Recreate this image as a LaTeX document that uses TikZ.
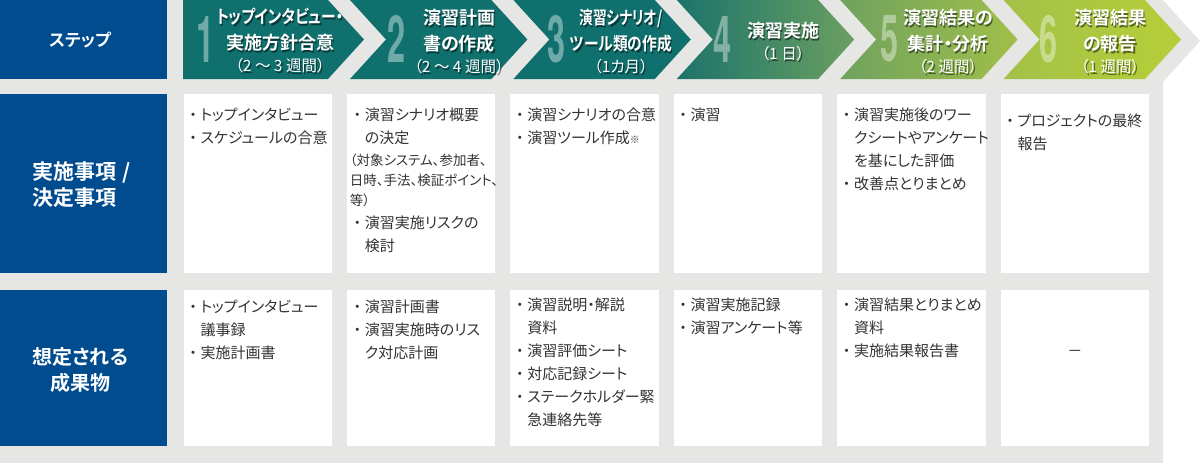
\documentclass[tikz,border=0pt]{standalone}
\usepackage{fontspec}
\usepackage{graphicx}
\setmainfont{Noto Sans CJK JP}[BoldFont={* Bold},RawFeature=+palt]
\newfontfamily\numfont{TeX Gyre Heros}
\usetikzlibrary{positioning}
\setlength{\parindent}{0pt}

\definecolor{stepnavy}{HTML}{004C8F}
\definecolor{stepgray}{HTML}{E6E6E4}
\definecolor{stepteal}{HTML}{10706E}
\definecolor{gradA}{HTML}{1C736B}
\definecolor{gradB}{HTML}{6A9F61}
\definecolor{gradC}{HTML}{6FA25F}
\definecolor{gradD}{HTML}{A0BF4A}
\definecolor{gradE}{HTML}{A3C149}
\definecolor{steplime}{HTML}{B6CE37}
\definecolor{celltext}{HTML}{333333}

\tikzstyle{navybox}=[fill=stepnavy, inner sep=0pt, minimum width=167pt]
\tikzstyle{lbl}=[text=white, inner sep=0pt, font=\fontsize{20}{26}\selectfont\bfseries]
\tikzstyle{cellbox}=[fill=white, inner sep=0pt, minimum width=148.5pt, anchor=north west]
\tikzstyle{celltxt}=[text=celltext, inner sep=0pt, anchor=north west, text width=146pt, align=left, font=\fontsize{15}{23}\selectfont, execute at begin node=\strut]
\tikzstyle{ttl}=[text=white, inner sep=0pt, align=center, font=\fontsize{18}{26}\selectfont\bfseries]
\tikzstyle{dur}=[text=white, inner sep=0pt, font=\fontsize{15.5}{16}\selectfont]
\tikzstyle{stepnum}=[text=white, text opacity=0.4, inner sep=0pt, font=\fontsize{65}{65}\numfont\bfseries]

\newcommand{\itm}{\makebox[15pt][c]{・}}
\newcommand{\itmind}{\hspace*{15pt}}
\newcommand{\narrow}[2]{\scalebox{#1}[1]{#2}}
\newcommand{\shadowed}[5]{%
  \node[#1, text=black, text opacity=0.5] (#2-sh) at (#3+1.3,#4+1.3) {#5};
  \node[#1] (#2) at (#3,#4) {#5};}

\begin{document}
\begin{tikzpicture}[x=1pt,y=-1pt]
    \useasboundingbox (0,0) rectangle (1200,463);
    \fill[stepgray] (0,0) -- (1163,0) -- (1200,41) -- (1163,82) -- (1163,463) -- (0,463) -- cycle;

    % left labels
    \node[navybox, minimum height=79pt] (hstep) at (83.5,39.5) {};
    \node[lbl, font=\fontsize{17}{20}\selectfont\bfseries] (tstep) at (80,40) {ステップ};
    \node[navybox, minimum height=179pt] (hdo) at (83.5,183.5) {};
    \node[lbl, anchor=west, align=left, font=\fontsize{21}{26}\selectfont\bfseries] (tdo) at (32,185) {実施事項\hspace{6pt}/\\決定事項};
    \node[navybox, minimum height=156pt] (hout) at (83.5,368) {};
    \node[lbl, anchor=west, align=center] (tout) at (32,370.5) {想定される\\成果物};

    % step arrows
    \fill[stepteal] (183,0) -- (328,0) -- (364,39.5) -- (328,79) -- (183,79) -- cycle;
    \foreach \k/\lc/\rc in {2/stepteal/stepteal,3/stepteal/stepteal,4/gradA/gradB,5/gradC/gradD,6/gradE/steplime}{
        \pgfmathsetmacro{\xr}{328+163.4*(\k-1)}
        \pgfmathsetmacro{\xl}{\xr-163.4+22}
        \shade[left color=\lc, right color=\rc] (\xl,0) -- (\xr,0) -- (\xr+36,39.5)
            -- (\xr,79) -- (\xl,79) -- (\xl+36,39.5) -- cycle;
    }
    \foreach \k/\x in {1/206,2/397,3/557,4/723,5/890,6/1049}
        \node[stepnum] (n\k) at (\x,39) {\narrow{0.5}{\k}};

    \shadowed{ttl}{s1}{280}{30}{\narrow{0.82}{トップインタビュー・}\\実施方針合意}
    \shadowed{dur}{d1}{280}{66}{（2 ～ 3 週間）}
    \shadowed{ttl}{s2}{459}{31}{演習計画\\書の作成}
    \shadowed{dur}{d2}{459}{67}{（2 ～ 4 週間）}
    \shadowed{ttl}{s3}{621}{31}{\narrow{0.76}{演習シナリオ/}\\\narrow{0.82}{ツール類の作成}}
    \shadowed{dur}{d3}{621}{67}{（1カ月）}
    \shadowed{ttl}{s4}{783}{31}{演習実施}
    \shadowed{dur}{d4}{783}{54}{（1 日）}
    \shadowed{ttl}{s5}{948}{31}{演習結果の\\集計・分析}
    \shadowed{dur}{d5}{948}{67}{（2 週間）}
    \shadowed{ttl}{s6}{1110}{31}{演習結果\\の報告}
    \shadowed{dur}{d6}{1110}{67}{（1 週間）}

    % cells
    \foreach \k in {1,...,6}{
        \pgfmathsetmacro{\cx}{183.3+163.4*(\k-1)}
        \node[cellbox, minimum height=179pt] (a\k) at (\cx,94) {};
        \node[cellbox, minimum height=156pt] (b\k) at (\cx,290) {};
    }

    \node[celltxt, below right=10pt and 2pt of a1.north west] (ta1)
        {\itm トップインタビュー\\\itm スケジュールの合意};
    \node[celltxt, below right=10pt and 3pt of a2.north west] (ta2)
        {\itm 演習シナリオ概要\\\itmind の決定\par
         {\fontsize{13.5}{20}\selectfont\vspace{2pt}（対象システム、参加者、\\日時、手法、検証ポイント、\\等）\par}
         \itm 演習実施リスクの\\\itmind 検討};
    \node[celltxt, below right=10pt and 2pt of a3.north west] (ta3)
        {\itm 演習シナリオの合意\\\itm 演習ツール作成{\fontsize{10}{10}\selectfont ※}};
    \node[celltxt, below right=10pt and 2pt of a4.north west] (ta4)
        {\itm 演習};
    \node[celltxt, below right=10pt and 2pt of a5.north west] (ta5)
        {\itm 演習実施後のワー\\\itmind クシートやアンケート\\\itmind を基にした評価\\\itm 改善点とりまとめ};
    \node[celltxt, below right=16pt and 2pt of a6.north west] (ta6)
        {\itm プロジェクトの最終\\\itmind 報告};

    \node[celltxt, below right=6pt and 2pt of b1.north west] (tb1)
        {\itm トップインタビュー\\\itmind 議事録\\\itm 実施計画書};
    \node[celltxt, below right=6pt and 3pt of b2.north west] (tb2)
        {\itm 演習計画書\\\itm 演習実施時のリス\\\itmind ク対応計画};
    \node[celltxt, below right=4pt and 2pt of b3.north west] (tb3)
        {\itm 演習説明・解説\\\itmind 資料\\\itm 演習評価シート\\\itm 対応記録シート\\\itm ステークホルダー緊\\\itmind 急連絡先等};
    \node[celltxt, below right=4pt and 2pt of b4.north west] (tb4)
        {\itm 演習実施記録\\\itm 演習アンケート等};
    \node[celltxt, below right=4pt and 2pt of b5.north west] (tb5)
        {\itm 演習結果とりまとめ\\\itmind 資料\\\itm 実施結果報告書};
    \node[text=celltext, inner sep=0pt, font=\fontsize{15}{15}\selectfont, above=12pt of b6.center] (tb6) {－};
\end{tikzpicture}
\end{document}
